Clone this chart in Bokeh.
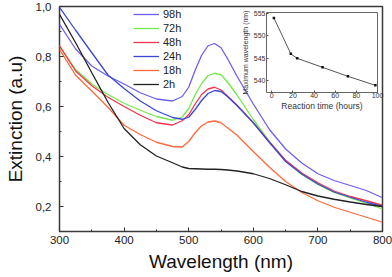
from bokeh.plotting import figure
from bokeh.models import FixedTicker
from bokeh.layouts import column
from bokeh.embed import file_html
from bokeh.resources import INLINE

# ---------------- data ----------------
wavelength = [300, 325, 350, 375, 400, 425, 450, 475, 490, 500, 510, 520, 530,
              540, 550, 560, 575, 600, 625, 650, 675, 700, 725, 750, 775, 800]

ext_98h = [0.929, 0.830, 0.762, 0.722, 0.690, 0.655, 0.630, 0.622, 0.640, 0.677,
           0.745, 0.805, 0.843, 0.852, 0.835, 0.792, 0.720, 0.610, 0.508, 0.430,
           0.374, 0.331, 0.304, 0.284, 0.264, 0.235]
ext_72h = [0.843, 0.748, 0.690, 0.648, 0.613, 0.585, 0.560, 0.545, 0.558, 0.592,
           0.647, 0.692, 0.724, 0.733, 0.727, 0.698, 0.645, 0.548, 0.460, 0.382,
           0.328, 0.288, 0.256, 0.234, 0.213, 0.190]
ext_48h = [0.843, 0.742, 0.683, 0.637, 0.600, 0.565, 0.535, 0.526, 0.543, 0.567,
           0.610, 0.648, 0.670, 0.677, 0.666, 0.642, 0.605, 0.535, 0.458, 0.385,
           0.334, 0.295, 0.262, 0.240, 0.223, 0.205]
ext_24h = [0.997, 0.905, 0.815, 0.726, 0.672, 0.622, 0.583, 0.556, 0.549, 0.557,
           0.588, 0.624, 0.652, 0.664, 0.660, 0.640, 0.603, 0.535, 0.456, 0.380,
           0.330, 0.290, 0.258, 0.237, 0.217, 0.200]
ext_18h = [0.829, 0.725, 0.662, 0.597, 0.525, 0.488, 0.457, 0.440, 0.438, 0.460,
           0.495, 0.523, 0.538, 0.542, 0.535, 0.515, 0.485, 0.420, 0.357, 0.300,
           0.256, 0.223, 0.197, 0.177, 0.157, 0.137]
ext_2h = [0.969, 0.855, 0.735, 0.617, 0.512, 0.447, 0.402, 0.375, 0.358, 0.352,
          0.351, 0.350, 0.349, 0.349, 0.348, 0.346, 0.342, 0.331, 0.312, 0.287,
          0.260, 0.242, 0.229, 0.218, 0.208, 0.200]

series_labels = ["98h", "72h", "48h", "24h", "18h", "2h"]
series_values = [ext_98h, ext_72h, ext_48h, ext_24h, ext_18h, ext_2h]
series_colors = ["#6e5ff2", "#74e84a", "#f2344e", "#3c48d4", "#ff6a3a", "#222222"]

x_ticks = [300, 400, 500, 600, 700, 800]
x_minor = [350, 450, 550, 650, 750]
y_ticks = [0.2, 0.4, 0.6, 0.8, 1.0]
y_tick_labels = ["0,2", "0,4", "0,6", "0,8", "1,0"]
y_minor = [0.3, 0.5, 0.7, 0.9]

reaction_time = [2, 18, 24, 48, 72, 98]
max_wavelength = [554, 546, 545, 543, 541, 539]
inset_x_ticks = [0, 20, 40, 60, 80, 100]
inset_y_ticks = [540, 545, 550, 555]

FONT = "Liberation Sans"

# ---------------- main figure ----------------
W, H = 392, 277
MB_TOP, MB_BOTTOM, MB_LEFT, MB_RIGHT = 6, 46, 59, 10

p = figure(width=W, height=H, x_range=(300, 800), y_range=(0.1, 1.0),
           output_backend="svg", toolbar_location=None,
           min_border_top=MB_TOP, min_border_bottom=MB_BOTTOM,
           min_border_left=MB_LEFT, min_border_right=MB_RIGHT)
p.grid.visible = False
p.outline_line_color = "#3a3a3a"
p.outline_line_width = 1.5
p.background_fill_color = "white"

for lab, vals, col in zip(series_labels, series_values, series_colors):
    p.line(wavelength, vals, line_color=col, line_width=1.3, legend_label=lab)

for ax in (p.xaxis[0], p.yaxis[0]):
    ax.axis_line_color = None
    ax.major_tick_in = 4
    ax.major_tick_out = 0
    ax.minor_tick_in = 2
    ax.minor_tick_out = 0
    ax.major_tick_line_color = "#333333"
    ax.minor_tick_line_color = "#333333"
    ax.major_label_text_font = FONT
    ax.major_label_text_font_size = "11.5px"
    ax.major_label_text_color = "#222222"
    ax.axis_label_text_font = FONT
    ax.axis_label_text_font_size = "19px"
    ax.axis_label_text_font_style = "normal"
    ax.axis_label_text_color = "#111111"

p.xaxis[0].ticker = FixedTicker(ticks=x_ticks, minor_ticks=x_minor)
p.yaxis[0].ticker = FixedTicker(ticks=y_ticks, minor_ticks=y_minor)
p.yaxis[0].major_label_overrides = dict(zip(y_ticks, y_tick_labels))
p.xaxis[0].major_label_standoff = 4
p.yaxis[0].major_label_standoff = 8
p.xaxis[0].axis_label = "Wavelength (nm)"
p.yaxis[0].axis_label = "Extinction (a.u)"
p.xaxis[0].axis_label_standoff = 4
p.yaxis[0].axis_label_standoff = 7

frame_h = H - MB_TOP - MB_BOTTOM
leg = p.legend[0]
leg.location = (74, frame_h - 84 - 1)
leg.border_line_color = None
leg.background_fill_alpha = 0
leg.padding = 0
leg.spacing = 0
leg.margin = 0
leg.glyph_width = 26
leg.glyph_height = 14
leg.label_height = 14
leg.label_standoff = 4
leg.label_text_font = FONT
leg.label_text_font_size = "11px"
leg.label_text_color = "#222222"

# ---------------- inset ----------------
# frame edges of a column's children are aligned, so the inset uses the
# same left/right borders as the main plot
I_FRAME_LEFT, I_FRAME_W, I_FRAME_TOP, I_FRAME_H = 266, 111, 12, 80
IB_TOP, IB_BOTTOM = 4, 22
IW = MB_LEFT + I_FRAME_W + MB_RIGHT
IH = IB_TOP + I_FRAME_H + IB_BOTTOM
inset = figure(width=IW, height=IH, x_range=(-5, 100), y_range=(537.4, 555.2),
               output_backend="svg", toolbar_location=None,
               min_border_left=MB_LEFT, min_border_right=MB_RIGHT,
               min_border_top=IB_TOP, min_border_bottom=IB_BOTTOM,
               margin=(I_FRAME_TOP - IB_TOP - H, 0, 0, I_FRAME_LEFT - MB_LEFT))
inset.grid.visible = False
inset.border_fill_alpha = 0
inset.background_fill_color = "white"
inset.outline_line_color = "#666666"
inset.outline_line_width = 1
inset.line(reaction_time, max_wavelength, line_color="#555555", line_width=1)
inset.scatter(reaction_time, max_wavelength, marker="square", size=2.5,
              fill_color="#111111", line_color=None)
for ax in (inset.xaxis[0], inset.yaxis[0]):
    ax.axis_line_color = None
    ax.major_tick_in = 2
    ax.major_tick_out = 0
    ax.minor_tick_in = 0
    ax.minor_tick_out = 0
    ax.major_tick_line_color = "#555555"
    ax.major_label_text_font = FONT
    ax.major_label_text_font_size = "7px"
    ax.major_label_text_color = "#333333"
    ax.major_label_standoff = 0
    ax.axis_label_text_font = FONT
    ax.axis_label_text_font_style = "normal"
    ax.axis_label_text_color = "#333333"
    ax.axis_label_standoff = 0
inset.yaxis[0].major_label_standoff = 1
inset.yaxis[0].axis_label_standoff = 2
inset.xaxis[0].ticker = FixedTicker(ticks=inset_x_ticks)
inset.yaxis[0].ticker = FixedTicker(ticks=inset_y_ticks)
inset.xaxis[0].axis_label = "Reaction time (hours)"
inset.xaxis[0].axis_label_text_font_size = "8.5px"
inset.yaxis[0].axis_label = "Maximum wavelength (nm)"
inset.yaxis[0].axis_label_text_font_size = "7px"

layout = column(p, inset, spacing=0)

open("out.html", "w").write(file_html(layout, INLINE))
